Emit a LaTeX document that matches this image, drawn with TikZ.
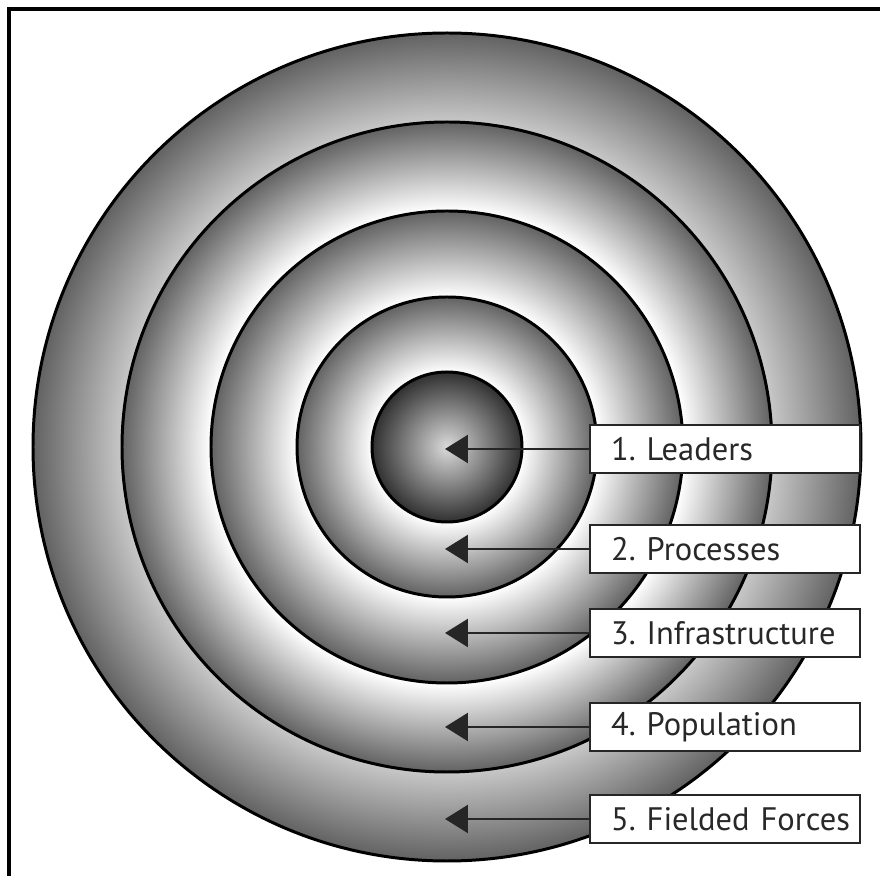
\documentclass[tikz,border=0pt]{standalone}
\usepackage{fontspec}
\setmainfont{PT Sans}[WordSpace=0.8]
\frenchspacing
\usetikzlibrary{arrows.meta,positioning}
\definecolor{ringdark}{RGB}{98,98,98}
\definecolor{ringpale}{RGB}{200,200,200}
\definecolor{coredark}{RGB}{48,48,48}
\definecolor{corelight}{RGB}{218,218,218}
\definecolor{txtgray}{RGB}{40,40,40}

% one shading per ring: pale at the inner edge, dark at the outer edge
\pgfdeclareradialshading{ringfive}{\pgfpointorigin}{color(0bp)=(ringpale); color(19.6bp)=(ringpale); color(25bp)=(ringdark); color(50bp)=(ringdark)}
\pgfdeclareradialshading{ringfour}{\pgfpointorigin}{color(0bp)=(white); color(18.2bp)=(white); color(25bp)=(ringdark); color(50bp)=(ringdark)}
\pgfdeclareradialshading{ringthree}{\pgfpointorigin}{color(0bp)=(white); color(15.9bp)=(white); color(25bp)=(ringdark); color(50bp)=(ringdark)}
\pgfdeclareradialshading{ringtwo}{\pgfpointorigin}{color(0bp)=(white); color(12.5bp)=(white); color(25bp)=(ringdark); color(50bp)=(ringdark)}
\pgfdeclareradialshading{ringcore}{\pgfpointorigin}{color(0bp)=(corelight); color(25bp)=(coredark); color(50bp)=(coredark)}

\begin{document}
\begin{tikzpicture}[
  x=0.02cm, y=0.02cm,
  ring/.style={draw=black, line width=1.7pt},
  lbl/.style={draw=black!85, line width=1.4pt, fill=white, anchor=west, text width=5.4cm,
              inner xsep=0pt, minimum height=0.97cm, align=left, text=txtgray,
              execute at begin node={\hspace*{0.42cm}},
              font=\fontsize{18.5}{21}\selectfont},
  arr/.style={-{Triangle[length=0.46cm, width=0.56cm]}, line width=1.5pt, draw=black!85}
]
\useasboundingbox (0,0) rectangle (880,876);
\draw[line width=2pt] (9,-20) -- (9,867) -- (900,867);

\coordinate (c) at (447,429);
\shade[ring, shading=ringfive]  (c) circle[radius=414];
\shade[ring, shading=ringfour]  (c) circle[radius=325];
\shade[ring, shading=ringthree] (c) circle[radius=236];
\shade[ring, shading=ringtwo]   (c) circle[radius=150];
\shade[ring, shading=ringcore]  (c) circle[radius=75];

\node[lbl] (leaders)    at (589,427) {1. Leaders};
\node[lbl] (processes)  at (589,327) {2. Processes};
\node[lbl] (infra)      at (589,243) {3. Infrastructure};
\node[lbl] (population) at (589,149) {4. Population};
\node[lbl] (forces)     at (589,57)  {5. Fielded Forces};

\coordinate (tip1) at (445,427);
\coordinate (tip2) at (445,327);
\coordinate (tip3) at (445,243);
\coordinate (tip4) at (445,149);
\coordinate (tip5) at (445,57);

\draw[arr] (leaders) -- (tip1);
\draw[arr] (processes) -- (tip2);
\draw[arr] (infra) -- (tip3);
\draw[arr] (population) -- (tip4);
\draw[arr] (forces) -- (tip5);
\end{tikzpicture}
\end{document}
